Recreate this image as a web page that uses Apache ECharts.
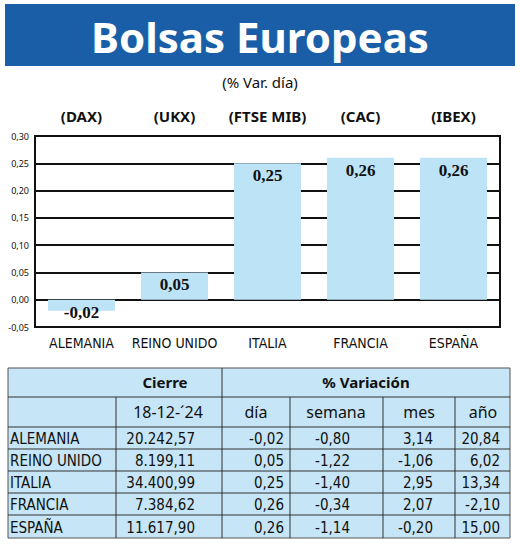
<!DOCTYPE html><html><head><meta charset="utf-8"><script src="https://cdn.jsdelivr.net/npm/echarts@6/dist/echarts.min.js"></script>
<style>body{margin:0}#c{width:520px;height:546px}</style></head><body><div id="c"></div><script>
const categories=['ALEMANIA','REINO UNIDO','ITALIA','FRANCIA','ESPAÑA'];
const indices=['(DAX)','(UKX)','(FTSE MIB)','(CAC)','(IBEX)'];
const dayVar=[-0.02,0.05,0.25,0.26,0.26];
const cierre=['20.242,57','8.199,11','34.400,99','7.384,62','11.617,90'];
const dia=['-0,02','0,05','0,25','0,26','0,26'];
const semana=['-0,80','-1,22','-1,40','-0,34','-1,14'];
const mes=['3,14','-1,06','2,95','2,07','-0,20'];
const anio=['20,84','6,02','13,34','-2,10','15,00'];
const chart=echarts.init(document.getElementById('c'),null,{renderer:'svg'});
const F='"DejaVu Sans Condensed","Noto Sans",sans-serif';
const g=[];
g.push({type:'rect',shape:{x:5,y:4,width:510,height:62},style:{fill:'#1b5ea8'}});
g.push({type:'text',x:260,y:36,style:{text:'Bolsas Europeas',fill:'#fff',font:'bold 42px "Noto Sans",sans-serif',align:'center',verticalAlign:'middle'}});
g.push({type:'text',x:260,y:82,style:{text:'(% Var. día)',fill:'#111',font:'normal 15px "Noto Sans",sans-serif',align:'center',verticalAlign:'middle'}});
const plotL=35,plotW=465;
indices.forEach((t,i)=>g.push({type:'text',x:plotL+plotW*(i+0.5)/5,y:116,style:{text:t,fill:'#111',font:'bold 15px "Noto Sans",sans-serif',align:'center',verticalAlign:'middle'}}));
const ty=[368,397,427,449,471,493,515,538];
g.push({type:'rect',shape:{x:8,y:368,width:502,height:170},style:{fill:'#c6e5f6',stroke:'#555',lineWidth:1}});
const line=(x1,y1,x2,y2,w,c)=>g.push({type:'line',shape:{x1,y1,x2,y2},style:{stroke:c||'#333',lineWidth:w||1}});
line(8,397,510,397);line(8,427,510,427);
line(222,368,222,538);
[116,290,383,455].forEach(x=>line(x,397,x,538));
for(let r=3;r<7;r++)line(8,ty[r],510,ty[r],1,'#333');
const txt=(s,x,y,al,f)=>g.push({type:'text',x,y,style:{text:s,fill:'#111',font:f||('normal 15px '+F),align:al,verticalAlign:'middle'}});
txt('Cierre',165,382,'center','bold 15px "Noto Sans",sans-serif');
txt('% Variación',366,382,'center','bold 15px "Noto Sans",sans-serif');
const hf='normal 16px "Noto Sans",sans-serif';
txt('18-12-´24',168,412,'center',hf);txt('día',256,412,'center',hf);txt('semana',336,412,'center',hf);txt('mes',419,412,'center',hf);txt('año',483,412,'center',hf);
categories.forEach((c,i)=>{const y=(ty[i+2]+ty[i+3])/2+1;
txt(c,10,y,'left');txt(cierre[i],195,y,'right');txt(dia[i],284,y,'right');txt(semana[i],350,y,'right');txt(mes[i],433,y,'right');txt(anio[i],500,y,'right');});
chart.setOption({animation:false,backgroundColor:'#fff',
grid:{left:35,right:20,top:136,bottom:219,show:true,borderColor:'#111',borderWidth:2},
xAxis:{type:'category',data:categories,axisLine:{show:false},axisTick:{show:false},axisLabel:{interval:0,color:'#111',fontSize:14,fontWeight:'normal',fontFamily:F,margin:9}},
yAxis:{type:'value',min:-0.05,max:0.3,interval:0.05,axisLine:{show:true,lineStyle:{color:'#111',width:2}},axisTick:{show:false},
splitLine:{lineStyle:{color:'#111',width:2}},axisLabel:{color:'#111',fontSize:9,fontFamily:'"Noto Sans",sans-serif',formatter:v=>v.toFixed(2).replace('.',','),margin:6}},
series:[{type:'bar',data:dayVar,barWidth:'72%',itemStyle:{color:'#bde3f6'},z:3,
label:{show:true,position:'insideTop',distance:4,color:'#111',fontSize:17,fontWeight:'bold',fontFamily:'"Liberation Serif",serif',formatter:p=>p.value.toFixed(2).replace('.',',')}}],
graphic:g});
</script></body></html>
